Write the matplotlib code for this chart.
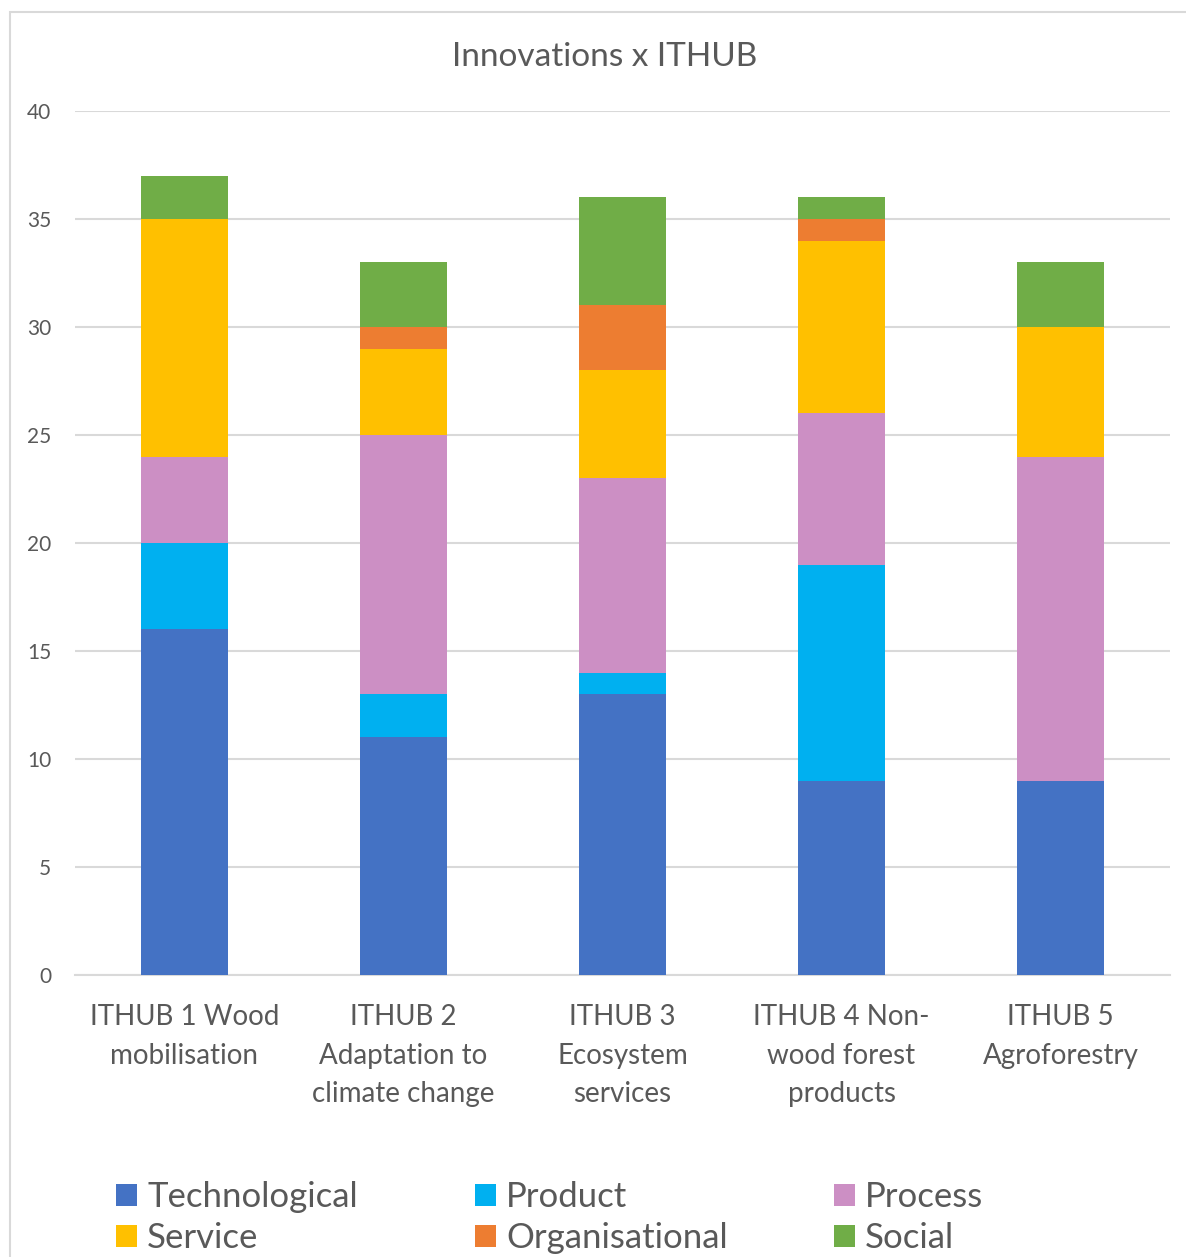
import matplotlib.pyplot as plt
import numpy as np

plt.rcParams['font.family'] = ['Lato', 'DejaVu Sans']

hubs = ["ITHUB 1 Wood\nmobilisation", "ITHUB 2\nAdaptation to\nclimate change",
        "ITHUB 3\nEcosystem\nservices", "ITHUB 4 Non-\nwood forest\nproducts",
        "ITHUB 5\nAgroforestry"]

technological = [16, 11, 13, 9, 9]
product = [4, 2, 1, 10, 0]
process = [4, 12, 9, 7, 15]
service = [11, 4, 5, 8, 6]
organisational = [0, 1, 3, 1, 0]
social = [2, 3, 5, 1, 3]

serie_navn = ["Technological", "Product", "Process", "Service", "Organisational", "Social"]
farger = ["#4472C4", "#00B0F0", "#CC8FC4", "#FFC000", "#ED7D31", "#70AD47"]
serier = [technological, product, process, service, organisational, social]

tekstfarge = "#595959"
gridfarge = "#D9D9D9"

fig = plt.figure(figsize=(11.86, 12.57), dpi=100)
ax = fig.add_axes([75 / 1186, 1 - 975 / 1257, 1095 / 1186, 864 / 1257])

x = np.arange(len(hubs))
bunn = np.zeros(len(hubs))
handles = []
for navn, verdier, farge in zip(serie_navn, serier, farger):
    b = ax.bar(x, verdier, 0.4, bottom=bunn, color=farge, label=navn, zorder=3)
    handles.append(b)
    bunn += np.array(verdier)

ax.set_xlim(-0.5, len(hubs) - 0.5)
ax.set_ylim(0, 40)
ax.set_yticks(range(0, 41, 5))
ax.yaxis.grid(True, color=gridfarge, linewidth=1.5, zorder=0)
for side in ["left", "right", "top"]:
    ax.spines[side].set_visible(False)
ax.spines["bottom"].set_color(gridfarge)
ax.spines["bottom"].set_linewidth(1.5)
ax.tick_params(axis="both", length=0, colors=tekstfarge)
ax.tick_params(axis="y", labelsize=15, pad=17)
ax.set_xticks(x)
ax.set_xticklabels(hubs, fontsize=20, color=tekstfarge, linespacing=1.6)
ax.tick_params(axis="x", pad=21)

fig.text(605 / 1186, 1 - 57 / 1257, "Innovations x ITHUB", ha="center", va="center",
         fontsize=24, color=tekstfarge)

# ramme rundt hele diagrammet
ramme = plt.Rectangle((10 / 1186, -0.01), 1.2, 1 - 12 / 1257 + 0.01, transform=fig.transFigure,
                      fill=False, edgecolor=gridfarge, linewidth=1.5)
fig.patches.append(ramme)

# legend i tre kolonner, to rader
for kol in range(3):
    h = [handles[kol], handles[kol + 3]]
    leg = fig.legend(h, [serie_navn[kol], serie_navn[kol + 3]],
                     loc="upper left", bbox_to_anchor=((116 + kol * 359) / 1186, 1 - 1181 / 1257),
                     frameon=False, fontsize=25, handlelength=0.6, handleheight=0.6,
                     handletextpad=0.3, labelspacing=0.26, borderpad=0, borderaxespad=0)
    for t in leg.get_texts():
        t.set_color(tekstfarge)

fig.savefig("out.png", dpi=100)
